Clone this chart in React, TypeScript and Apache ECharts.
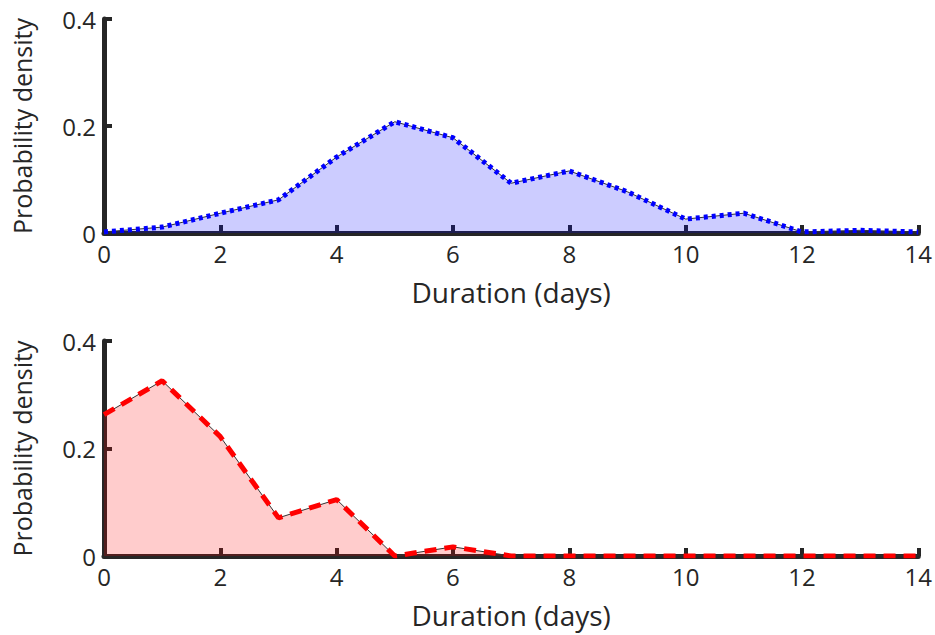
import React, { useEffect, useRef } from "react";
import * as echarts from "echarts";

const days = [0, 1, 2, 3, 4, 5, 6, 7, 8, 9, 10, 11, 12, 13, 14];
const topDensity = [0.002, 0.011, 0.037, 0.062, 0.142, 0.208, 0.178, 0.093, 0.116, 0.077, 0.026, 0.037, 0.002, 0.005, 0.002];
const bottomDensity = [0.263, 0.326, 0.222, 0.071, 0.105, 0.0, 0.017, 0.0, 0.0, 0.0, 0.0, 0.0, 0.0, 0.0, 0.0];
const xTicks = { min: 0, max: 14, interval: 2 };
const yTicks = { min: 0, max: 0.4, interval: 0.2 };
const xLabel = "Duration (days)";
const yLabel = "Probability density";

const FONT = "Open Sans";
const TEXT = "#262626";

function xAxisFor(gridIndex: number) {
  return {
    type: "value",
    gridIndex,
    min: xTicks.min,
    max: xTicks.max,
    interval: xTicks.interval,
    name: xLabel,
    nameLocation: "middle",
    nameGap: 45,
    nameTextStyle: { fontFamily: FONT, fontSize: 28, color: TEXT },
    axisLine: { show: true, lineStyle: { color: TEXT, width: 5 } },
    axisTick: { show: true, inside: true, length: 8, lineStyle: { color: TEXT, width: 4 } },
    axisLabel: { fontFamily: FONT, fontSize: 24, color: TEXT, margin: 8 },
    splitLine: { show: false },
  };
}

function yAxisFor(gridIndex: number) {
  return {
    type: "value",
    gridIndex,
    min: yTicks.min,
    max: yTicks.max,
    interval: yTicks.interval,
    name: yLabel,
    nameLocation: "middle",
    nameGap: 70,
    nameRotate: 90,
    nameTextStyle: { fontFamily: FONT, fontSize: 25, color: TEXT },
    axisLine: { show: true, lineStyle: { color: TEXT, width: 5 } },
    axisTick: { show: true, inside: true, length: 8, lineStyle: { color: TEXT, width: 4 } },
    axisLabel: { fontFamily: FONT, fontSize: 24, color: TEXT, margin: 8 },
    splitLine: { show: false },
  };
}

export default function App() {
  const ref = useRef<HTMLDivElement>(null);
  useEffect(() => {
    if (!ref.current) return;
    const chart = echarts.init(ref.current, undefined, { renderer: "svg" });
    const top = days.map((d, i) => [d, topDensity[i]]);
    const bot = days.map((d, i) => [d, bottomDensity[i]]);
    chart.setOption({
      animation: false,
      backgroundColor: "#ffffff",
      grid: [
        { left: 104, right: 16, top: 19, height: 214 },
        { left: 104, right: 16, top: 341, height: 215 },
      ],
      xAxis: [xAxisFor(0), xAxisFor(1)],
      yAxis: [yAxisFor(0), yAxisFor(1)],
      series: [
        {
          type: "line",
          xAxisIndex: 0,
          yAxisIndex: 0,
          data: top,
          symbol: "none",
          lineStyle: { color: "#333333", width: 1 },
          areaStyle: { color: "rgba(0,0,255,0.2)", opacity: 1 },
          z: 2,
        },
        {
          type: "line",
          xAxisIndex: 0,
          yAxisIndex: 0,
          data: top,
          symbol: "none",
          lineStyle: { color: "#0000ff", width: 5, type: [4, 4], cap: "butt" },
          z: 3,
        },
        {
          type: "line",
          xAxisIndex: 1,
          yAxisIndex: 1,
          data: bot,
          symbol: "none",
          lineStyle: { color: "#333333", width: 1 },
          areaStyle: { color: "rgba(255,0,0,0.2)", opacity: 1 },
          z: 2,
        },
        {
          type: "line",
          xAxisIndex: 1,
          yAxisIndex: 1,
          data: bot,
          symbol: "none",
          lineStyle: { color: "#ff0000", width: 5, type: [12, 8], cap: "butt" },
          z: 3,
        },
      ],
    });
    return () => chart.dispose();
  }, []);
  return (
    <div
      ref={ref}
      style={{ position: "fixed", left: 0, top: 0, width: 935, height: 635, background: "#fff" }}
    />
  );
}
